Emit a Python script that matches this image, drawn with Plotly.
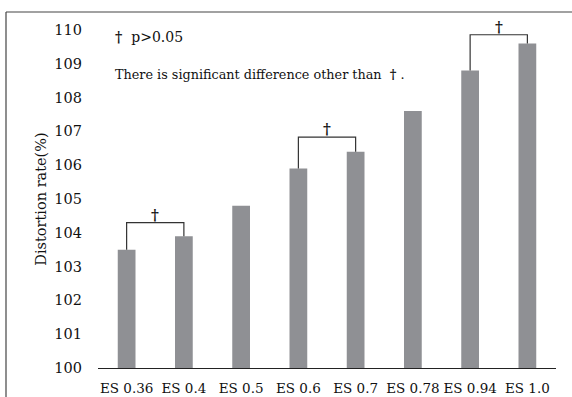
import plotly.graph_objects as go

categories = ["ES 0.36", "ES 0.4", "ES 0.5", "ES 0.6", "ES 0.7", "ES 0.78", "ES 0.94", "ES 1.0"]
values = [103.5, 103.9, 104.8, 105.9, 106.4, 107.6, 108.8, 109.6]
# brackets: (left category index, right category index, bracket top value)
brackets = [(0, 1, 104.3), (3, 4, 106.83), (6, 7, 109.86)]
y_ticks = list(range(100, 111))

FONT = "DejaVu Serif"
W, H = 572, 397
L, R, T, B = 98, 16, 30, 29
pw, ph = W - L - R, H - T - B

fig = go.Figure()
fig.add_trace(go.Bar(x=categories, y=values, marker=dict(color="#8f9094", line=dict(width=0)),
                     width=0.31, showlegend=False))

for i, j, top in brackets:
    fig.add_trace(go.Scatter(
        x=[categories[i], categories[i], categories[j], categories[j]],
        y=[values[i], top, top, values[j]],
        mode="lines", line=dict(color="#333333", width=1.2), showlegend=False, hoverinfo="skip"))
    fig.add_annotation(x=(i + j) / 2, y=top, xref="x", yref="y", text="<b>†</b>", showarrow=False,
                       yanchor="bottom", yshift=-3, font=dict(family=FONT, size=15, color="#111111"))

fig.add_annotation(x=(113 - L) / pw, y=(H - B - 37) / ph, xref="paper", yref="paper",
                   text="<b>†</b>  p>0.05", showarrow=False, xanchor="left", yanchor="middle",
                   font=dict(family=FONT, size=14, color="#111111"))
fig.add_annotation(x=(113 - L) / pw, y=(H - B - 74) / ph, xref="paper", yref="paper",
                   text="There is significant difference other than  <b>†</b> .", showarrow=False,
                   xanchor="left", yanchor="middle",
                   font=dict(family=FONT, size=12.8, color="#111111"))

# frame
fx0 = (6 - L) / pw
fx1 = (W - L) / pw
fy1 = (H - B - 12) / ph
fy0 = -B / ph
fig.add_shape(type="line", xref="paper", yref="paper", x0=fx0, x1=fx1, y0=fy1, y1=fy1,
              line=dict(color="#444444", width=1.2))
fig.add_shape(type="line", xref="paper", yref="paper", x0=fx0, x1=fx0, y0=fy0, y1=fy1,
              line=dict(color="#444444", width=1.2))

fig.update_layout(
    width=W, height=H, margin=dict(l=L, r=R, t=T, b=B, autoexpand=False),
    paper_bgcolor="white", plot_bgcolor="white",
    font=dict(family=FONT, size=14, color="#111111"),
    bargap=0.69,
    xaxis=dict(type="category", showline=True, linecolor="#222222", linewidth=1.2,
               showgrid=False, ticks="", ticklabelstandoff=8, automargin=False,
               tickfont=dict(family=FONT, size=13.5)),
    yaxis=dict(range=[100, 110], tickvals=y_ticks, showgrid=False, showline=False,
               zeroline=False, ticks="", ticklabelstandoff=15, automargin=False,
               tickfont=dict(family=FONT, size=14.5),
               title=dict(text="Distortion rate(%)", standoff=4,
                          font=dict(family=FONT, size=14.5))),
)

fig.write_html("out.html")
